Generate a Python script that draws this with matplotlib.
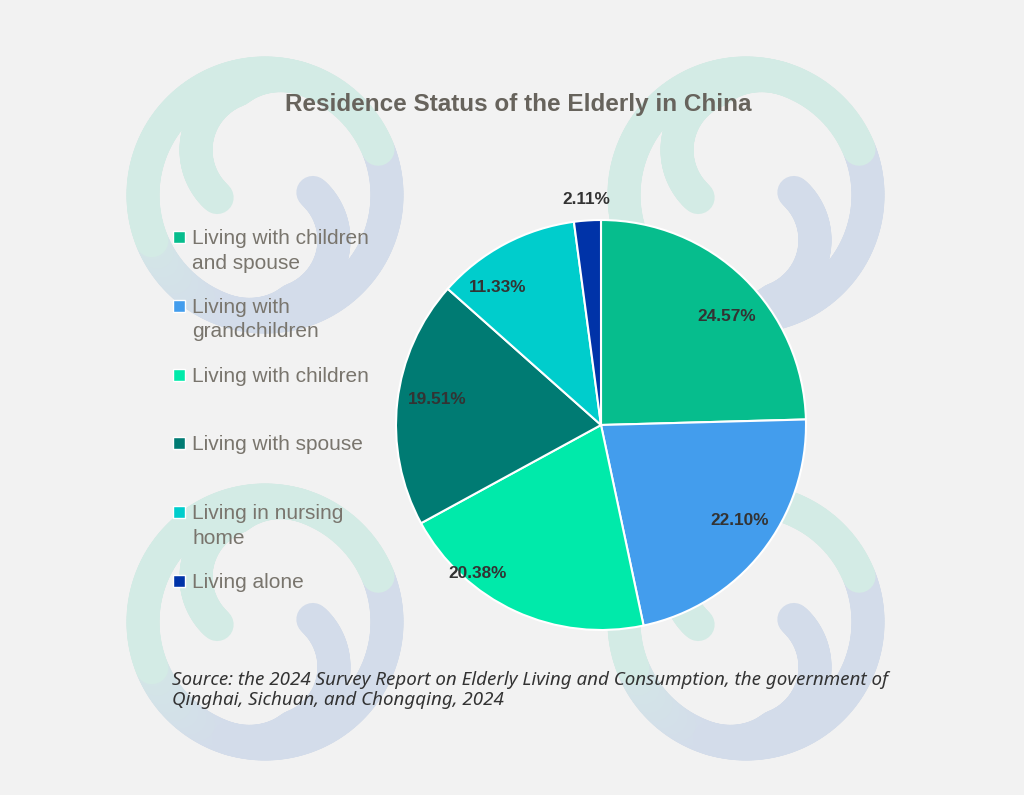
import numpy as np
import matplotlib
matplotlib.use("Agg")
import matplotlib.pyplot as plt
from matplotlib.collections import LineCollection

# data
labels = ["Living with children\nand spouse", "Living with\ngrandchildren", "Living with children",
          "Living with spouse", "Living in nursing\nhome", "Living alone"]
shares = [24.57, 22.10, 20.38, 19.51, 11.33, 2.11]
colors = ["#06bd8d", "#439ded", "#00eaaa", "#007b73", "#00cdcc", "#0033a8"]

# label placement tweaks (degrees off slice middle, radius fraction)
label_turn = [-5, 3.5, -15, -2.5, 9, 0]
label_dist = [0.81, 0.82, 0.94, 0.81, 0.84, 1.10]

W, H = 1024, 795
fig = plt.figure(figsize=(W / 100, H / 100), dpi=100)
fig.patch.set_facecolor("#f2f2f2")

# background decoration (pixel coords, y up)
bg = fig.add_axes([0, 0, 1, 1])
bg.set_xlim(0, W)
bg.set_ylim(0, H)
bg.axis("off")

teal = np.array([211, 235, 229]) / 255
blue = np.array([211, 220, 234]) / 255
lw = 33 * 72 / 100


def stroke(x, y, c0, c1, t=None):
    pts = np.column_stack([x, y])
    segs = np.stack([pts[:-1], pts[1:]], axis=1)
    if t is None:
        t = np.zeros(len(segs))
    t = np.asarray(t)[:, None]
    cols = c0 * (1 - t) + c1 * t
    bg.add_collection(LineCollection(segs, colors=cols, linewidths=lw, capstyle="round"))


def emblem(cx, cy):
    cy = H - cy
    R = 122
    mix = teal * 0.6 + blue * 0.4
    # blue ring piece (right -> bottom -> left), fades toward teal at the left end
    a = np.linspace(22, -158, 150)
    t = np.clip((-115 - a[:-1]) / 43, 0, 1)
    stroke(cx + R * np.cos(np.radians(a)), cy + R * np.sin(np.radians(a)), blue, mix, t)
    # teal ring piece (left -> top -> right)
    a = np.radians(np.linspace(202, 22, 150))
    stroke(cx + R * np.cos(a), cy + R * np.sin(a), teal, teal)
    # inner hooks, point symmetric
    th = np.linspace(60, 228, 120)
    r = 64 + np.clip(110 - th, 0, None) * 26 / 70
    hx = -5 + r * np.cos(np.radians(th))
    hy = 45 + r * np.sin(np.radians(th))
    stroke(cx + hx, cy + hy, teal, teal)
    stroke(cx - hx, cy - hy, blue, blue)


for cx, cy in [(265, 195), (746, 195), (265, 622), (746, 622)]:
    emblem(cx, cy)

# pie
pcx, pcy, pr = 601, 425, 205
ax = fig.add_axes([(pcx - pr) / W, (H - pcy - pr) / H, 2 * pr / W, 2 * pr / H])
wedges, _ = ax.pie(shares, colors=colors, startangle=90, counterclock=False,
                   wedgeprops=dict(edgecolor="white", linewidth=1.5))
ax.set_xlim(-1, 1)
ax.set_ylim(-1, 1)

for w, v, turn, d in zip(wedges, shares, label_turn, label_dist):
    mid = np.radians((w.theta1 + w.theta2) / 2 + turn)
    ax.text(d * np.cos(mid), d * np.sin(mid), f"{v:.2f}%", ha="center", va="center",
            fontsize=12.4, fontweight="bold", color="#333333", family="Liberation Sans")

# title
fig.text(518 / W, 1 - 104 / H, "Residence Status of the Elderly in China", ha="center", va="center",
         fontsize=17.5, fontweight="bold", color="#67635c", family="Liberation Sans")

# legend
for i, (lab, c) in enumerate(zip(labels, colors)):
    y = 237 + i * 68.8
    fig.patches.append(plt.Rectangle((173 / W, 1 - (y + 6) / H), 12 / W, 12 / H, transform=fig.transFigure,
                                     facecolor=c, edgecolor="white", lw=1))
    fig.text(192 / W, 1 - (y - 8) / H, lab, ha="left", va="top", fontsize=15, color="#79756d",
             family="Liberation Sans", linespacing=1.37)

# source
fig.text(172 / W, 1 - 690 / H,
         "Source: the 2024 Survey Report on Elderly Living and Consumption, the government of\n"
         "Qinghai, Sichuan, and Chongqing, 2024",
         ha="left", va="center", fontsize=13.5, style="italic", color="#333333",
         family="Noto Sans", linespacing=1.1)

fig.savefig("out.png", dpi=100, facecolor=fig.get_facecolor())
